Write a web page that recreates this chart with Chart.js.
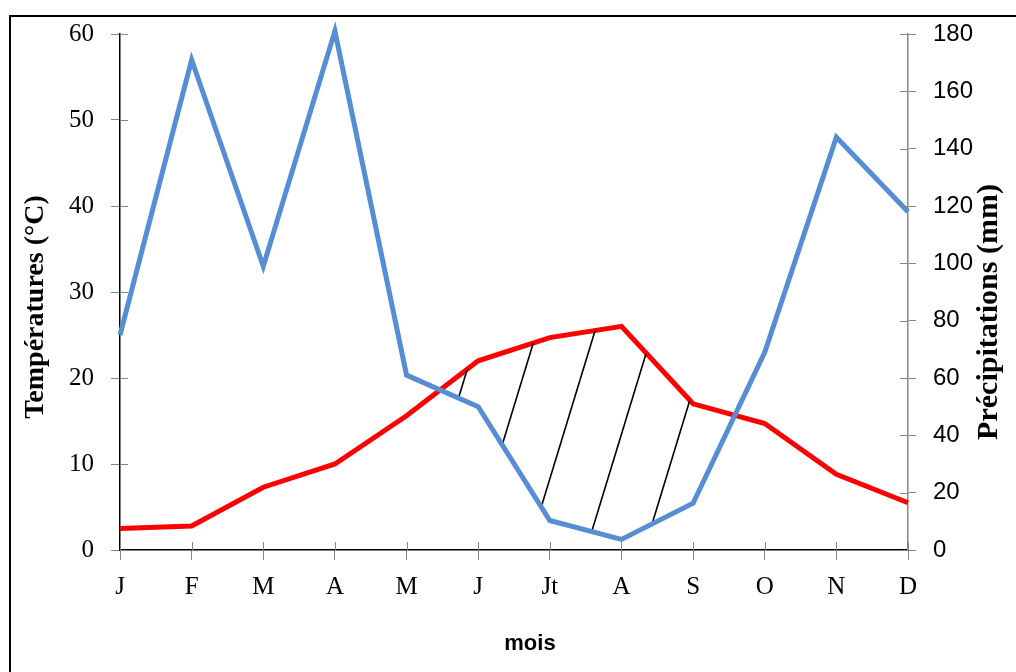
<!DOCTYPE html>
<html>
<head>
<meta charset="utf-8">
<script src="https://cdn.jsdelivr.net/npm/chart.js@4"></script>
<style>
    html, body { margin: 0; padding: 0; background: #fff; overflow: hidden; }
    #wrap { position: relative; width: 1016px; height: 672px; }
    #frame { position: absolute; left: 9px; top: 15px; width: 1100px; height: 700px;
             border-left: 2px solid #000; border-top: 2px solid #000; pointer-events: none; }
    #xtitle { position: absolute; left: 0; width: 1060px; top: 630px; text-align: center;
              font: bold 22px "Liberation Sans", Arial, sans-serif; color: #000; }
</style>
</head>
<body>
<div id="wrap">
    <canvas id="ombroChart" width="1016" height="672"></canvas>
    <div id="frame"></div>
    <div id="xtitle">mois</div>
</div>
<script>
// données du diagramme
const months = ['J', 'F', 'M', 'A', 'M', 'J', 'Jt', 'A', 'S', 'O', 'N', 'D'];
const temperatures = [2.5, 2.8, 7.3, 10, 15.6, 22, 24.7, 26, 17, 14.7, 8.8, 5.5];
const precipitations = [75, 171, 99, 181, 61, 50, 10.3, 3.7, 16.3, 69, 144, 118];
const tempTicks = [0, 10, 20, 30, 40, 50, 60];
const precipTicks = [0, 20, 40, 60, 80, 100, 120, 140, 160, 180];
const leftTitle = 'Températures (°C)';
const rightTitle = 'Précipitations (mm)';

const serif = '"Liberation Serif", "Times New Roman", serif';
const sans = '"Liberation Sans", Arial, sans-serif';

function hatchPattern() {
    // hachures obliques pour la période sèche
    const w = 58, h = 190;
    const c = document.createElement('canvas');
    c.width = w; c.height = h;
    const g = c.getContext('2d');
    g.strokeStyle = '#000';
    g.lineWidth = 1.6;
    for (const dx of [-w, 0, w]) {
        g.beginPath();
        g.moveTo(dx, h);
        g.lineTo(dx + w, 0);
        g.stroke();
    }
    return g.createPattern(c, 'repeat');
}

// petites graduations qui traversent les axes
const crossTicks = {
    id: 'crossTicks',
    afterDraw(chart) {
        const ctx = chart.ctx;
        ctx.save();
        ctx.strokeStyle = '#868686';
        ctx.lineWidth = 1;
        const x = chart.scales.x, yL = chart.scales.yT, yR = chart.scales.yP;
        x.ticks.forEach((t, i) => {
            const px = Math.round(x.getPixelForTick(i)) + 0.5;
            ctx.beginPath(); ctx.moveTo(px, x.top - 8); ctx.lineTo(px, x.top); ctx.stroke();
        });
        yL.ticks.forEach((t, i) => {
            const py = Math.round(yL.getPixelForTick(i)) + 0.5;
            ctx.beginPath(); ctx.moveTo(yL.right, py); ctx.lineTo(yL.right + 8, py); ctx.stroke();
        });
        yR.ticks.forEach((t, i) => {
            const py = Math.round(yR.getPixelForTick(i)) + 0.5;
            ctx.beginPath(); ctx.moveTo(yR.left - 8, py); ctx.lineTo(yR.left, py); ctx.stroke();
        });
        ctx.restore();
    }
};

// titres des axes verticaux, tous deux lus de bas en haut
const axisTitles = {
    id: 'axisTitles',
    afterDraw(chart) {
        const ctx = chart.ctx;
        const mid = (chart.chartArea.top + chart.chartArea.bottom) / 2;
        ctx.save();
        ctx.fillStyle = '#000';
        ctx.font = 'bold 28px ' + serif;
        ctx.textAlign = 'center';
        ctx.textBaseline = 'middle';
        ctx.translate(36, mid + 15);
        ctx.rotate(-Math.PI / 2);
        ctx.fillText(leftTitle, 0, 0);
        ctx.restore();
        ctx.save();
        ctx.fillStyle = '#000';
        ctx.font = 'bold 30px ' + serif;
        ctx.textAlign = 'center';
        ctx.textBaseline = 'middle';
        ctx.translate(989, mid + 20);
        ctx.rotate(-Math.PI / 2);
        ctx.fillText(rightTitle, 0, 0);
        ctx.restore();
    }
};

function initOmbroChart() {
    const ctx = document.getElementById('ombroChart').getContext('2d');
    new Chart(ctx, {
        type: 'line',
        data: {
            labels: months,
            datasets: [{
                label: 'Précipitations',
                data: precipitations,
                yAxisID: 'yP',
                borderColor: '#558ED5',
                borderWidth: 5,
                pointRadius: 0,
                tension: 0,
                clip: false,
                fill: { target: 1, above: 'rgba(0,0,0,0)', below: hatchPattern() }
            }, {
                label: 'Températures',
                data: temperatures,
                yAxisID: 'yT',
                borderColor: '#FF0000',
                borderWidth: 5,
                pointRadius: 0,
                tension: 0,
                fill: false
            }]
        },
        options: {
            responsive: false,
            animation: false,
            layout: { padding: { left: 18, right: 9, top: 34, bottom: 62 } },
            plugins: { legend: { display: false }, tooltip: { enabled: false } },
            scales: {
                x: {
                    offset: false,
                    grid: { drawOnChartArea: false, tickLength: 10, color: '#868686' },
                    border: { color: '#000', width: 1.5 },
                    ticks: { color: '#000', padding: 12, font: { family: serif, size: 25 } },
                    afterFit: s => { s.height = 60; }
                },
                yT: {
                    position: 'left',
                    min: 0, max: 60,
                    afterBuildTicks: s => { s.ticks = tempTicks.map(v => ({ value: v })); },
                    grid: { drawOnChartArea: false, tickLength: 9, color: '#868686' },
                    border: { color: '#000', width: 1.5 },
                    ticks: { color: '#000', padding: 17, font: { family: serif, size: 25 } },
                    afterFit: s => { s.width = 102; }
                },
                yP: {
                    position: 'right',
                    min: 0, max: 180,
                    afterBuildTicks: s => { s.ticks = precipTicks.map(v => ({ value: v })); },
                    grid: { drawOnChartArea: false, tickLength: 8, color: '#868686' },
                    border: { color: '#868686', width: 1.5 },
                    ticks: { color: '#000', padding: 17, font: { family: sans, size: 24 } },
                    afterFit: s => { s.width = 99; }
                }
            }
        },
        plugins: [crossTicks, axisTitles]
    });
}
window.onload = initOmbroChart;
</script>
</body>
</html>
